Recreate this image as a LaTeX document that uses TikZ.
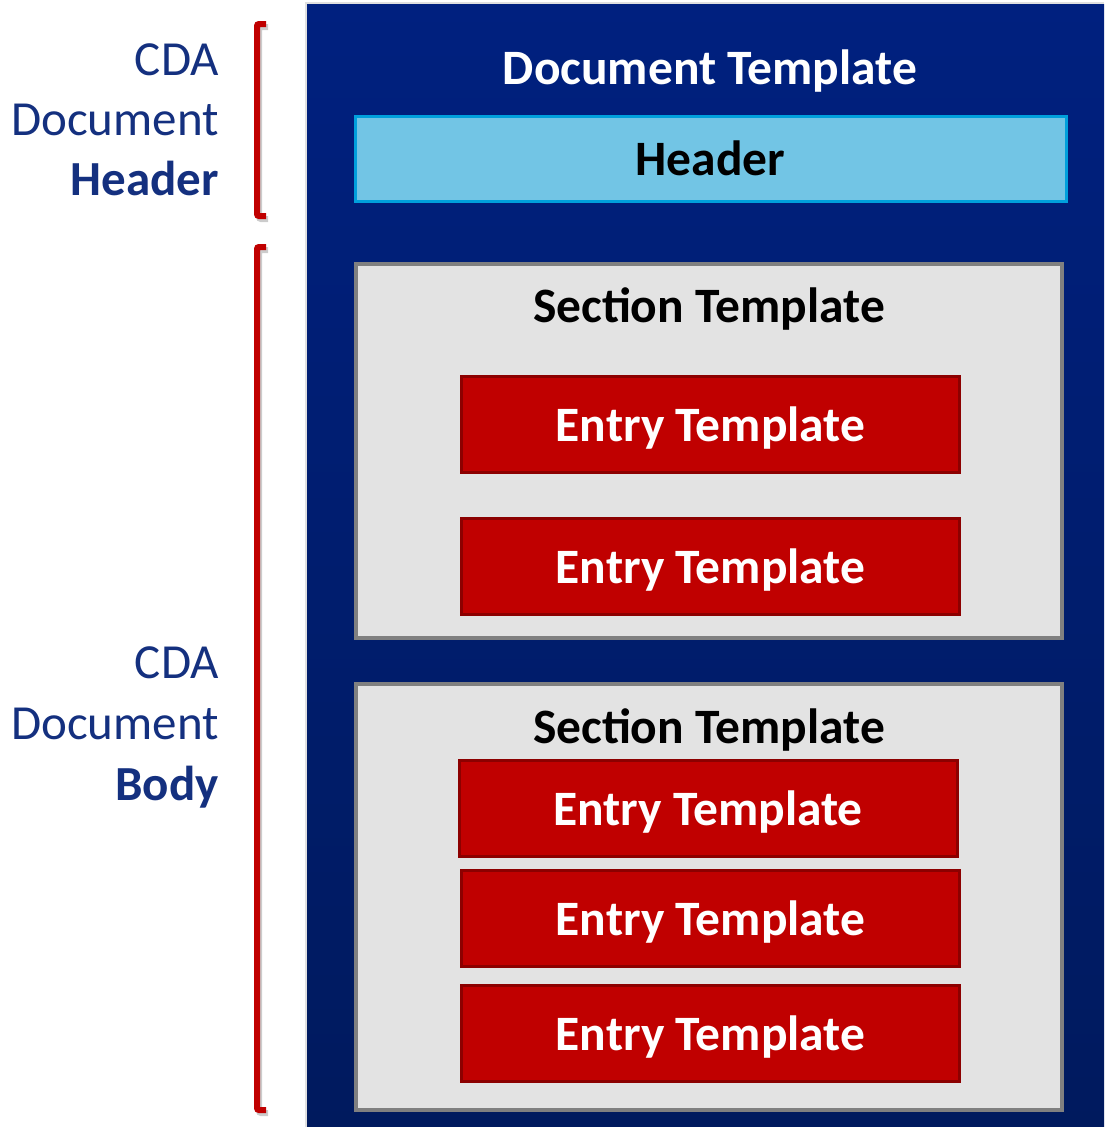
\documentclass[tikz,border=0pt]{standalone}
\usepackage{fontspec}
\setmainfont{Carlito}
\definecolor{outerTop}{HTML}{00207F}
\definecolor{outerBot}{HTML}{001A5E}
\definecolor{hdrFill}{HTML}{72C5E5}
\definecolor{hdrLine}{HTML}{00A0DC}
\definecolor{secFill}{HTML}{E3E3E3}
\definecolor{secLine}{HTML}{808080}
\definecolor{entFill}{HTML}{C00000}
\definecolor{entLine}{HTML}{8C0000}
\definecolor{lblBlue}{HTML}{14307F}
\definecolor{brRed}{HTML}{C00000}
\begin{document}
\begin{tikzpicture}[x=1pt,y=-1pt,
  bigfont/.style={font=\fontsize{49}{58}\selectfont},
  boldfont/.style={font=\bfseries\fontsize{49.5}{58}\selectfont},
  lbl/.style={bigfont,text=lblBlue,anchor=base east,inner sep=0pt},
  entrybox/.style={draw=entLine,line width=3pt,fill=entFill,minimum width=498pt,minimum height=96pt,
    boldfont,text=white,text height=34pt,text depth=0pt,inner sep=0pt},
  secbox/.style={draw=secLine,line width=4pt,fill=secFill,minimum width=706pt,inner sep=0pt},
  bracket/.style={draw=brRed,line width=6pt,rounded corners=2pt},
  brshadow/.style={draw=black!20,line width=6pt,rounded corners=2pt}
]
\useasboundingbox (0,0) rectangle (1104,1127);
% outer document template
\fill[black!12] (305,2) rectangle (1104,1127);
\node[top color=outerTop,bottom color=outerBot,minimum width=797pt,minimum height=1123pt,inner sep=0pt] (outer) at (705.5,565.5) {};
\node[anchor=base,text=white,boldfont,inner sep=0pt] (doct) at (710,84) {Document Template};
% header
\node[draw=hdrLine,line width=3pt,fill=hdrFill,minimum width=711pt,minimum height=85pt,inner sep=0pt,
  boldfont,text=black,text height=34pt,text depth=0pt] (hdr) at (710.5,158.5) {Header};
% sections
\node[secbox,minimum height=374pt] (sec1) at (709,451) {};
\node[anchor=base,text=black,boldfont,inner sep=0pt] (sec1t) at (709,322) {Section Template};
\node[secbox,minimum height=426pt] (sec2) at (709,897) {};
\node[anchor=base,text=black,boldfont,inner sep=0pt] (sec2t) at (709,743) {Section Template};
% entries
\node[entrybox] (e1) at (710.5,424) {Entry Template};
\node[entrybox] (e2) at (710.5,566.5) {Entry Template};
\node[entrybox] (e3) at (708,808) {Entry Template};
\node[entrybox] (e4) at (710.5,918.5) {Entry Template};
\node[entrybox] (e5) at (710.5,1033.5) {Entry Template};
% brackets
\coordinate (b1a) at (266,24); \coordinate (b1b) at (257,24);
\coordinate (b1c) at (257,216); \coordinate (b1d) at (266,216);
\coordinate (b2a) at (266,247); \coordinate (b2b) at (257,247);
\coordinate (b2c) at (257,1110); \coordinate (b2d) at (266,1110);
\draw[brshadow,transform canvas={shift={(2pt,-3pt)}}] (b1a) -- (b1b) -- (b1c) -- (b1d);
\draw[brshadow,transform canvas={shift={(2pt,-3pt)}}] (b2a) -- (b2b) -- (b2c) -- (b2d);
\draw[bracket] (b1a) -- (b1b) -- (b1c) -- (b1d);
\draw[bracket] (b2a) -- (b2b) -- (b2c) -- (b2d);
% labels
\node[lbl] (l1) at (219,75) {CDA};
\node[lbl] (l2) at (219,135) {Document};
\node[lbl,font=\bfseries\fontsize{49}{58}\selectfont] (l3) at (219,195) {Header};
\node[lbl] (l4) at (219,678) {CDA};
\node[lbl] (l5) at (219,739) {Document};
\node[lbl,font=\bfseries\fontsize{49}{58}\selectfont] (l6) at (219,800) {Body};
\end{tikzpicture}
\end{document}
